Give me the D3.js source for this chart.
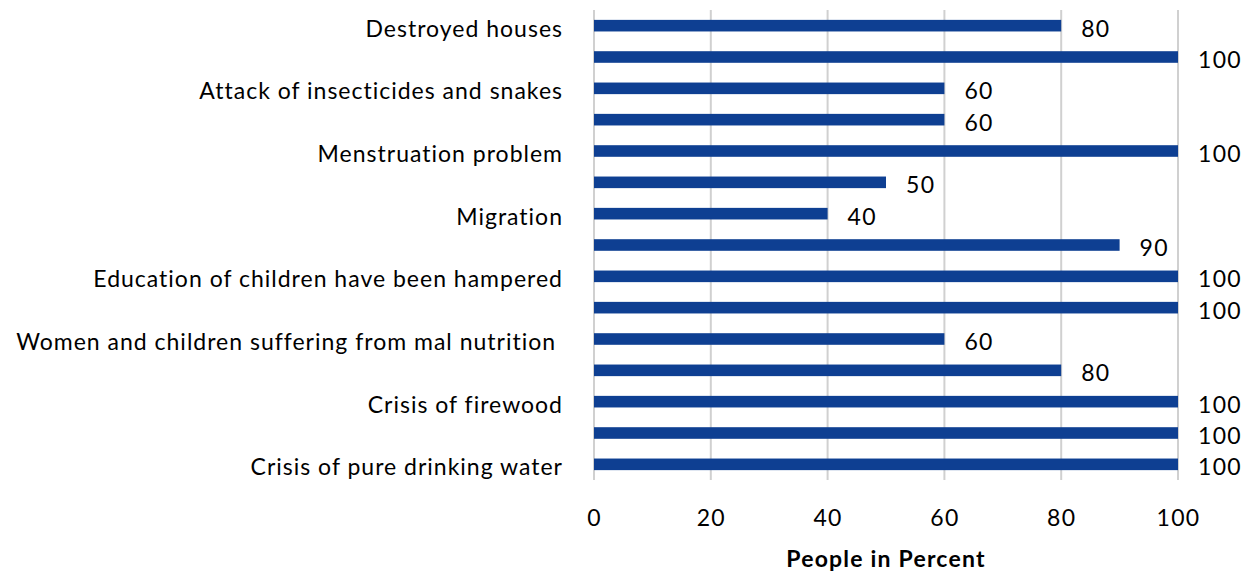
<!DOCTYPE html>
<html><head><meta charset="utf-8">
<script src="https://cdn.jsdelivr.net/npm/d3@7"></script>
<style>body{margin:0;background:#fff}svg{display:block}</style>
</head><body>
<svg id="c" width="1249" height="572"></svg>
<script>
const categories = [
  "Destroyed houses", "", "Attack of insecticides and snakes", "",
  "Menstruation problem", "", "Migration", "",
  "Education of children have been hampered", "",
  "Women and children suffering from mal nutrition ", "",
  "Crisis of firewood", "", "Crisis of pure drinking water"
];
const values = [80, 100, 60, 60, 100, 50, 40, 90, 100, 100, 60, 80, 100, 100, 100];
const xTicks = [0, 20, 40, 60, 80, 100];
const axisTitle = "People in Percent";

const FONT = "Lato, 'Open Sans', sans-serif";
const svg = d3.select("#c");
const m = {left: 594, right: 1178, top: 10, bottom: 480};
const x = d3.scaleLinear().domain([0, 100]).range([m.left, m.right]);
const y = d3.scaleBand().domain(d3.range(categories.length)).range([m.top, m.bottom])
  .paddingInner(0.63).paddingOuter(0.315);

// gridlines
svg.append("g").selectAll("line").data(xTicks).join("line")
  .attr("x1", d => x(d)).attr("x2", d => x(d))
  .attr("y1", m.top).attr("y2", m.bottom)
  .attr("stroke", "#d0d0d0").attr("stroke-width", 2);

// bars
svg.append("g").selectAll("rect").data(values).join("rect")
  .attr("x", x(0)).attr("y", (d, i) => y(i))
  .attr("width", d => x(d) - x(0)).attr("height", y.bandwidth())
  .attr("fill", "#0e3f92");

// value labels
svg.append("g").selectAll("text").data(values).join("text")
  .attr("x", d => x(d) + 20).attr("y", (d, i) => y(i) + y.bandwidth() / 2 + 2)
  .attr("dominant-baseline", "central")
  .attr("font-family", FONT).attr("font-size", 23).attr("letter-spacing", 1.3).attr("fill", "#000")
  .text(d => d);

// category axis
const yAxis = d3.axisLeft(y).tickFormat(i => categories[i]).tickSize(0).tickPadding(31);
const ga = svg.append("g").attr("transform", `translate(${m.left},0)`).call(yAxis);
ga.select(".domain").remove();
ga.selectAll("text").attr("font-family", FONT).attr("font-size", 23).attr("letter-spacing", 1)
  .attr("fill", "#000")
  .attr("dy", null).attr("dominant-baseline", "central").attr("y", 2)
  .style("white-space", "pre").attr("xml:space", "preserve");

// x axis
const xAxis = d3.axisBottom(x).tickValues(xTicks).tickSize(0).tickPadding(0);
const gx = svg.append("g").attr("transform", `translate(0,517)`).call(xAxis);
gx.select(".domain").remove();
gx.selectAll("text").attr("font-family", FONT).attr("font-size", 23).attr("letter-spacing", 1.3)
  .attr("fill", "#000")
  .attr("y", 0).attr("dy", null).attr("dominant-baseline", "central");

svg.append("text").attr("x", 886).attr("y", 558).attr("text-anchor", "middle")
  .attr("dominant-baseline", "central")
  .attr("font-family", FONT).attr("font-size", 23).attr("letter-spacing", 1.2).attr("font-weight", "bold")
  .text(axisTitle);
</script>
</body></html>
